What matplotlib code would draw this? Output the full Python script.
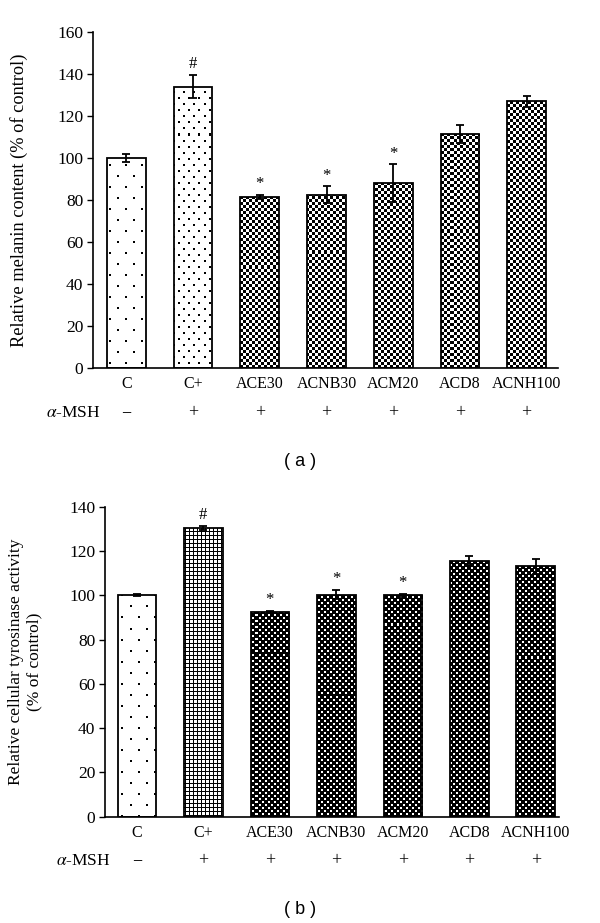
import numpy as np
import matplotlib
matplotlib.use("Agg")
import matplotlib.pyplot as plt
from matplotlib.transforms import blended_transform_factory

plt.rcParams['font.family'] = ['Liberation Serif', 'DejaVu Serif']
plt.rcParams['mathtext.fontset'] = 'stix'

# ---------------- data ----------------
categories = ["C", "C+", "ACE30", "ACNB30", "ACM20", "ACD8", "ACNH100"]
msh_signs = ["\u2212", "+", "+", "+", "+", "+", "+"]

melanin_mean = [100, 134, 81.5, 82.5, 88, 111.5, 127]
melanin_err = [2, 5.5, 1, 4, 9, 4.3, 2.5]
melanin_marks = ["", "#", "*", "*", "*", "", ""]
melanin_patterns = ["dots_sparse", "dots_dense", "checker", "checker", "checker", "checker", "checker"]

tyro_mean = [100, 130.5, 92.3, 100.3, 100, 115.5, 113]
tyro_err = [0.4, 0.8, 0.5, 2, 0.6, 2.3, 3.3]
tyro_marks = ["", "#", "*", "*", "*", "", ""]
tyro_patterns = ["dots_sparse", "grid", "diamond", "diamond", "diamond", "diamond", "diamond"]

W, H = 600, 923
fig = plt.figure(figsize=(W / 100, H / 100), dpi=100)


def make_texture(kind, h, w):
    i, j = np.mgrid[0:h, 0:w]
    img = np.ones((h, w))
    if kind == "checker":
        img = (((i // 3) + (j // 3)) % 2).astype(float)
    elif kind == "diamond":
        a = (i % 6 < 2) & (j % 6 < 2)
        b = ((i % 6 >= 3) & (i % 6 < 5)) & ((j % 6 >= 3) & (j % 6 < 5))
        img = (a | b).astype(float)
    elif kind == "grid":
        img = np.where((i % 4 == 0) | (j % 4 == 0), 0.0, 1.0)
    elif kind == "dots_sparse":
        a = (i % 22 < 2) & (j % 16 < 2)
        b = ((i - 11) % 22 < 2) & ((j - 8) % 16 < 2)
        img = np.where(a | b, 0.0, 1.0)
    elif kind == "dots_dense":
        a = (i % 12 < 2) & (j % 10 < 2)
        b = ((i - 6) % 12 < 2) & ((j - 5) % 10 < 2)
        img = np.where(a | b, 0.0, 1.0)
    return img


def panel(ax, means, errs, marks, patterns, ylim_top, yticks, xlim, ylabel, label_x,
          ylabel_size, msh_y, msh_x, panel_label, panel_y):
    x = np.arange(len(categories))
    ax.set_xlim(*xlim)
    ax.set_ylim(0, ylim_top)
    fig.canvas.draw()
    bb = ax.get_window_extent()
    hpx, wpx = int(round(bb.height)), int(round(bb.width))
    bars = ax.bar(x, means, width=0.58, facecolor="none", edgecolor="black",
                  linewidth=1.3, zorder=3)
    for bar, pat in zip(bars, patterns):
        tex = make_texture(pat, hpx, wpx)
        im = ax.imshow(tex, cmap="gray", vmin=0, vmax=1, extent=(xlim[0], xlim[1], 0, ylim_top),
                       aspect="auto", interpolation="nearest", zorder=2)
        im.set_clip_path(bar)
    ax.errorbar(x, means, yerr=errs, fmt="none", ecolor="black", elinewidth=1.3,
                capsize=3, capthick=1.3, zorder=4)
    for xi, m, e, mk in zip(x, means, errs, marks):
        if mk:
            ax.annotate(mk, (xi, m + e), xytext=(0, 2), textcoords="offset points",
                        ha="center", va="bottom", fontsize=12, zorder=5)
    ax.set_xlim(*xlim)
    ax.set_ylim(0, ylim_top)
    ax.set_yticks(yticks)
    ax.set_xticks(x)
    ax.set_xticklabels(categories, fontsize=11.5)
    ax.tick_params(axis="x", length=0, pad=6)
    ax.tick_params(axis="y", direction="out", length=4, width=1, labelsize=12.5, pad=3)
    for s in ["top", "right"]:
        ax.spines[s].set_visible(False)
    ax.spines["left"].set_linewidth(1.2)
    ax.spines["bottom"].set_linewidth(1.2)
    ax.set_ylabel(ylabel, fontsize=ylabel_size, multialignment="center")
    ax.yaxis.set_label_coords(label_x, 0.5)
    tr = blended_transform_factory(ax.transData, fig.transFigure)
    for xi, s in zip(x, msh_signs):
        ax.text(xi, 1 - msh_y / H, s, transform=tr, ha="center", va="center", fontsize=13)
    fig.text(msh_x / W, 1 - msh_y / H, r"$\alpha$-MSH", ha="right", va="center", fontsize=12.5)
    fig.text(0.5, 1 - panel_y / H, panel_label, ha="center", va="center",
             fontsize=13, family=["Liberation Sans", "DejaVu Sans"])


axA = fig.add_axes([93 / W, 1 - 368 / H, (558 - 93) / W, (368 - 32) / H])
panel(axA, melanin_mean, melanin_err, melanin_marks, melanin_patterns, 160,
      np.arange(0, 161, 20), (-0.5, 6.47), "Relative melanin content (% of control)",
      -0.14, 13.2, 413, 101, "( a )", 462)

axB = fig.add_axes([105 / W, 1 - 816.7 / H, (559 - 105) / W, (816.7 - 506.7) / H])
panel(axB, tyro_mean, tyro_err, tyro_marks, tyro_patterns, 140,
      np.arange(0, 141, 20), (-0.48, 6.35),
      "Relative cellular tyrosinase activity\n(% of control)",
      -0.137, 12.5, 861, 111, "( b )", 910)

fig.savefig("out.png", dpi=100, facecolor="white")
